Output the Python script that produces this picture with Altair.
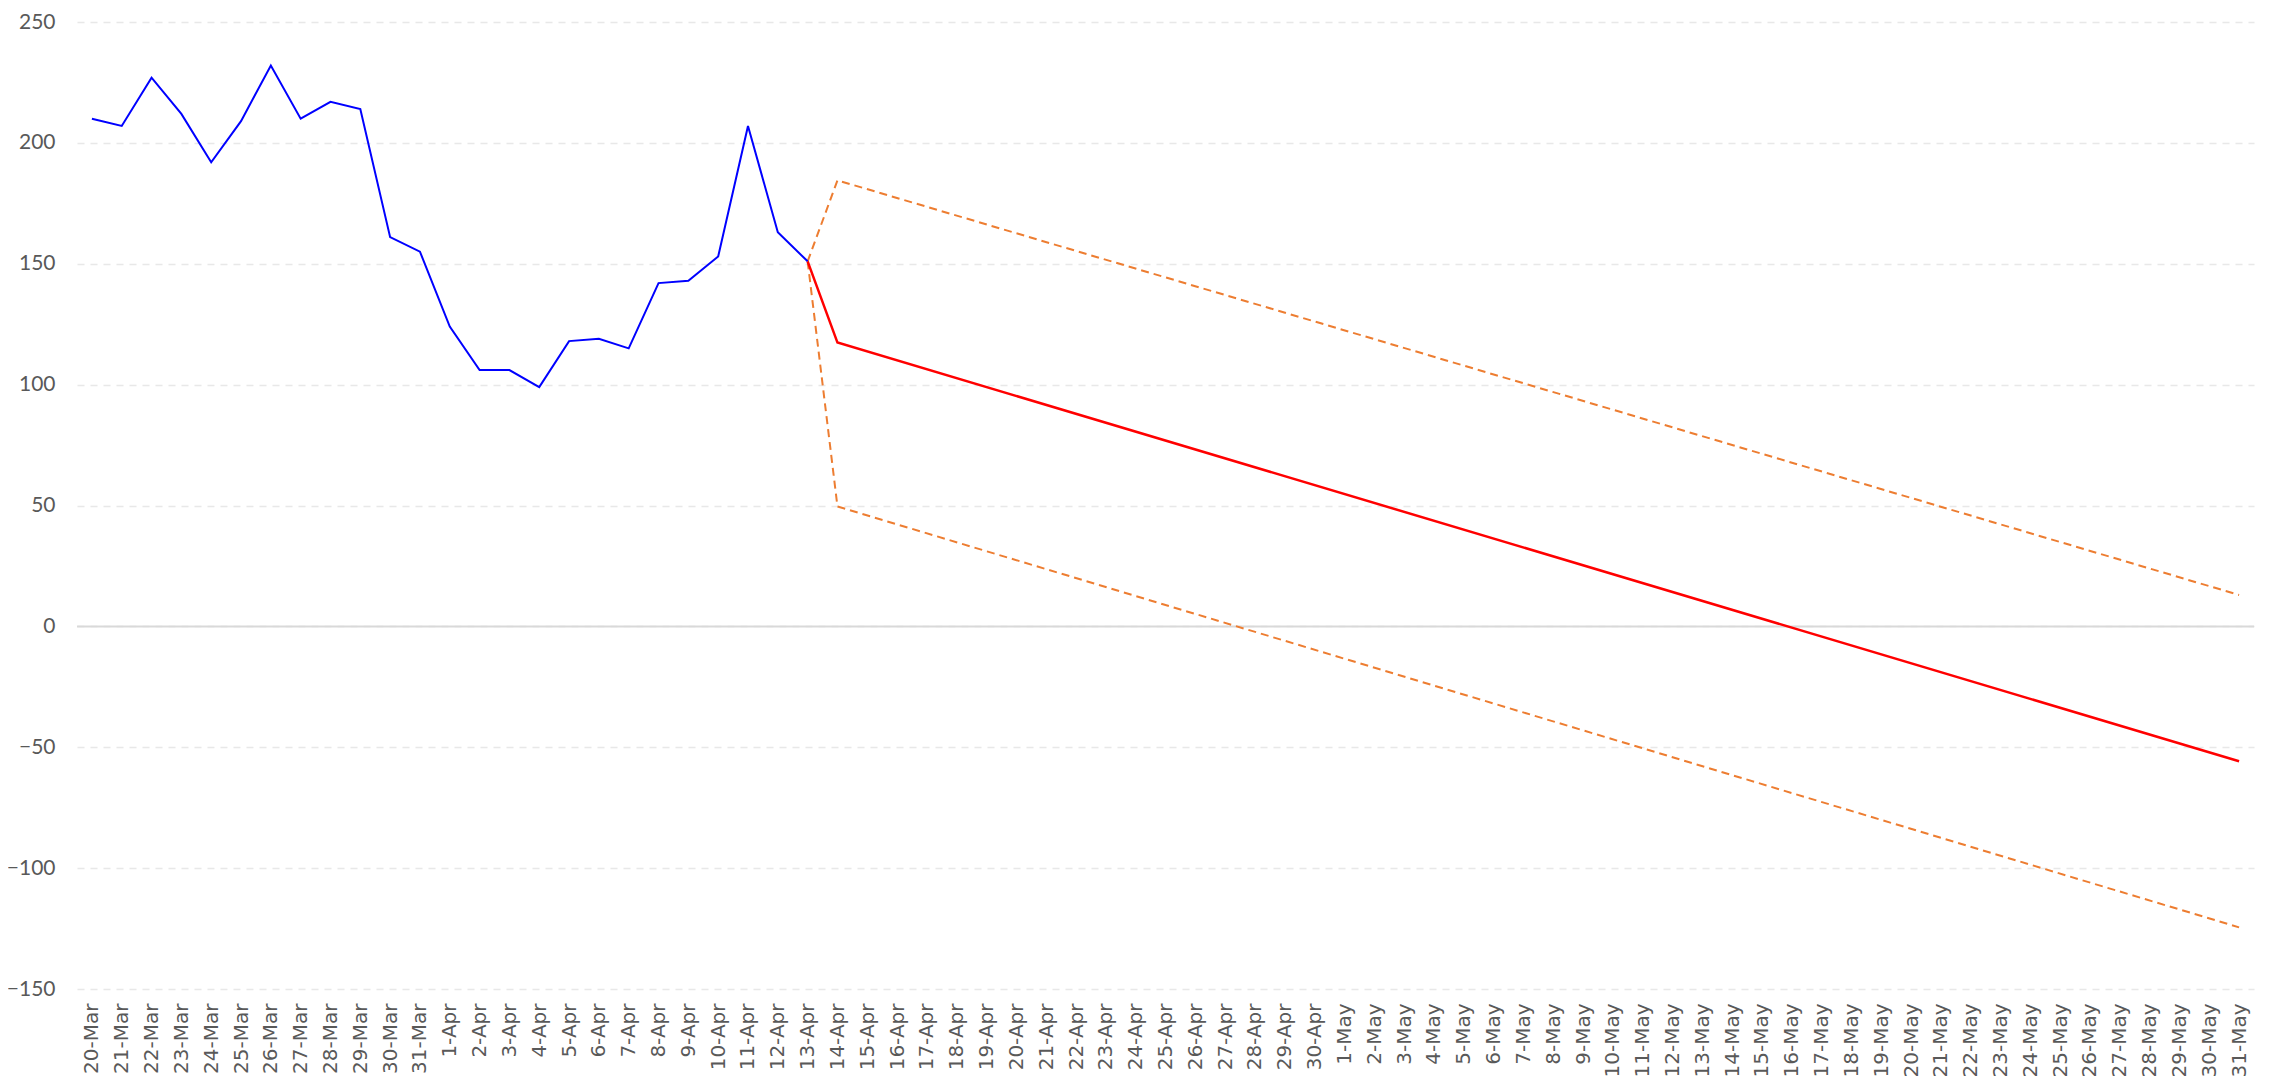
import altair as alt
import pandas as pd

# Category labels (daily, 20-Mar .. 31-May)
dates = ([f"{d}-Mar" for d in range(20, 32)]
         + [f"{d}-Apr" for d in range(1, 31)]
         + [f"{d}-May" for d in range(1, 32)])

# Actual series (20-Mar .. 13-Apr)
actual_dates = dates[:25]
actual_values = [210, 207, 227, 212, 192, 209, 232, 210, 217, 214, 161, 155, 124,
                 106, 106, 99, 118, 119, 115, 142, 143, 153, 207, 163, 151]

# Forecast (straight segments: vertices only)
fc_dates = ["13-Apr", "14-Apr", "31-May"]
forecast_values = [151, 117.4, -55.8]
upper_values = [151, 184.5, 13.0]
lower_values = [151, 49.6, -124.5]

y_ticks = [-150, -100, -50, 0, 50, 100, 150, 200, 250]

rows = []
for d, v in zip(actual_dates, actual_values):
    rows.append({"series": "actual", "date": d, "value": v})
for d, v in zip(fc_dates, forecast_values):
    rows.append({"series": "forecast", "date": d, "value": v})
for d, v in zip(fc_dates, upper_values):
    rows.append({"series": "upper", "date": d, "value": v})
for d, v in zip(fc_dates, lower_values):
    rows.append({"series": "lower", "date": d, "value": v})
df = pd.DataFrame(rows)
df["order"] = df["date"].apply(lambda s: dates.index(s))

x_enc = alt.X(
    "date:O",
    sort=dates,
    scale=alt.Scale(type="point", domain=dates, padding=0.5),
    axis=alt.Axis(
        title=None, labelAngle=270, labelFont="DejaVu Sans", labelFontSize=20,
        labelColor="#595959", labelPadding=14, domain=False, ticks=False,
        grid=False, labelOverlap=False, labelBound=False, labelFlush=False,
    ),
)
y_enc = alt.Y(
    "value:Q",
    scale=alt.Scale(domain=[-150, 250], nice=False, zero=False),
    axis=alt.Axis(
        title=None, values=y_ticks, grid=True, gridDash=[7, 6],
        gridColor="#e8e8e8", gridWidth=1.5, domain=False, ticks=False,
        labelFont="Liberation Sans Narrow, Lato", labelFontSize=21,
        labelColor="#595959", labelPadding=22,
    ),
)

base = alt.Chart(df)

zero_rule = alt.Chart(pd.DataFrame({"value": [0]})).mark_rule(
    color="#d9d9d9", strokeWidth=2
).encode(y=alt.Y("value:Q"))

def series_line(name, color, width, dash=None):
    kw = dict(color=color, strokeWidth=width)
    if dash:
        kw["strokeDash"] = dash
    return base.transform_filter(alt.datum.series == name).mark_line(**kw).encode(
        x=x_enc, y=y_enc, order="order:Q"
    )

upper = series_line("upper", "#ED7D31", 2, [8, 5])
lower = series_line("lower", "#ED7D31", 2, [8, 5])
forecast = series_line("forecast", "#FF0000", 2.5)
actual = series_line("actual", "#0000FF", 2)

chart = alt.layer(upper, zero_rule, lower, forecast, actual).properties(
    width=2177,
    height=967,
    autosize=alt.AutoSizeParams(type="none"),
    padding={"left": 69, "top": 14, "right": 20, "bottom": 92},
    background="white",
).configure_view(stroke=None)

chart.save("out.html", embed_options={"renderer": "svg", "actions": False})
